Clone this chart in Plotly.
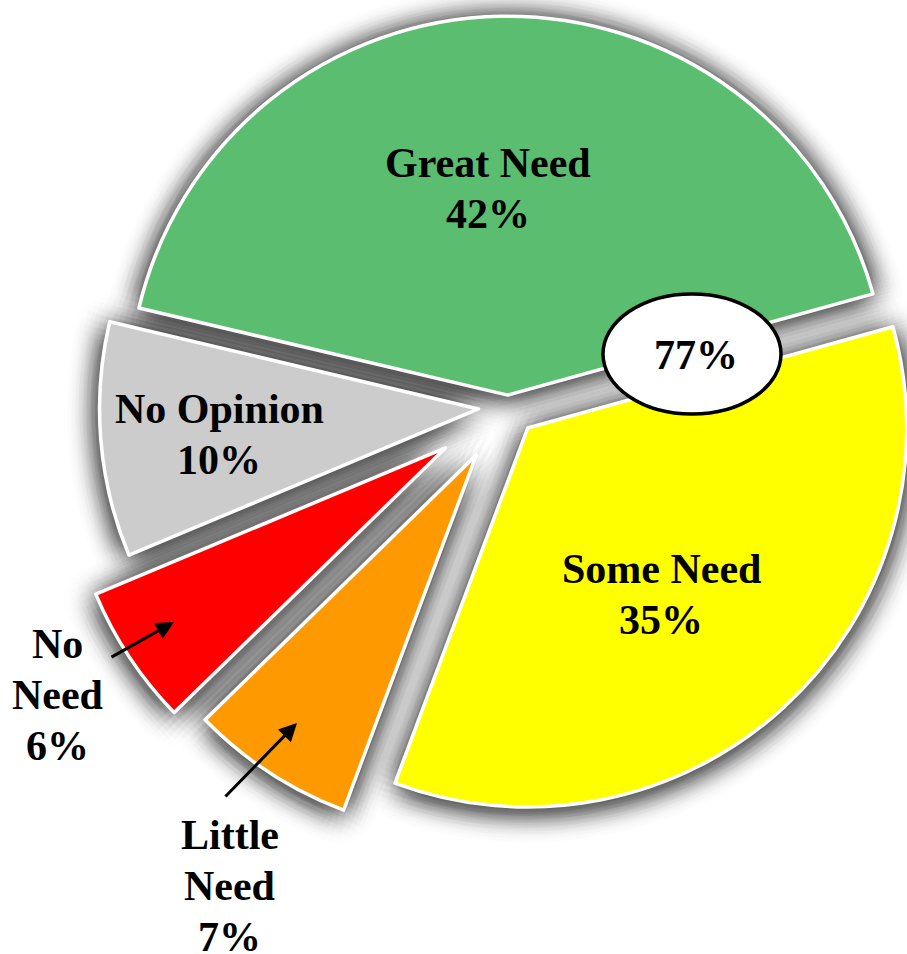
import math
import plotly.graph_objects as go

# ---- data ----
categories = ["Great Need", "Some Need", "Little Need", "No Need", "No Opinion"]
values = [42, 35, 7, 6, 10]
combined_value = 77  # Great Need + Some Need

# ---- style ----
colors = ["#5BBD6F", "#FFFF00", "#FF9900", "#FF0000", "#CCCCCC"]
pulls = [0.03, 0.077, 0.153, 0.198, 0.078]
W, H = 907, 954
CX, CY = 508, 406.5
R = 379
ROT = -76.7
FONT = "Liberation Serif"
FS = 42
LINE = 51
SIGMA = 16.0
SHADOW_STRENGTH = 1.35
SHADOW_OFFSET = (0, 3)

fig = go.Figure()
total = sum(values)
start_math = 90 - ROT

# geometry of each (pulled) slice, derived from the values
slices = []
cum = 0
for i, v in enumerate(values):
    a0 = start_math - cum / total * 360
    a1 = start_math - (cum + v) / total * 360
    mid = math.radians((a0 + a1) / 2)
    cum += v
    ax = CX + pulls[i] * R * math.cos(mid)
    ay = CY - pulls[i] * R * math.sin(mid)
    slices.append((ax, ay, a0, a1))


def wedge_path(ax, ay, a0, a1, rad, ox, oy):
    xs, ys = [round(ax + ox, 1)], [round(ay + oy, 1)]
    n = max(6, int(abs(a0 - a1) / 3))
    for k in range(n + 1):
        t = math.radians(a0 + (a1 - a0) * k / n)
        xs.append(round(ax + ox + rad * math.cos(t), 1))
        ys.append(round(ay + oy - rad * math.sin(t), 1))
    xs.append(round(ax + ox, 1))
    ys.append(round(ay + oy, 1))
    return xs, ys


# soft shadow: sum of shifted translucent copies (Gaussian blur approximation)
STEP = 4.0
NR = 12
for j in range(NR + 1):
    rr = j * STEP
    a = max(0.0, rr - STEP / 2)
    b = rr + STEP / 2 if j < NR else 1e9
    n = 1 if j == 0 else max(6, round(2 * math.pi * rr / 7))
    mass = math.exp(-a * a / (2 * SIGMA ** 2)) - math.exp(-b * b / (2 * SIGMA ** 2))
    alpha = 1 - math.exp(-SHADOW_STRENGTH * mass / n)
    for k in range(n):
        ang = 2 * math.pi * (k + 0.37 * j) / n
        ox = SHADOW_OFFSET[0] + rr * math.cos(ang)
        oy = SHADOW_OFFSET[1] + rr * math.sin(ang)
        X, Y = [], []
        for (ax, ay, a0, a1) in slices:
            xs, ys = wedge_path(ax, ay, a0, a1, R + 1.5, ox, oy)
            X += xs + [None]
            Y += ys + [None]
        fig.add_trace(go.Scatter(
            x=X, y=Y, mode="lines", fill="toself", line=dict(width=0),
            fillcolor=f"rgba(0,0,0,{alpha:.5f})", hoverinfo="skip", showlegend=False,
        ))

# pie slices (one trace per slice so each can sit at its own pulled position)
for i, (ax, ay, a0, a1) in enumerate(slices):
    dx = [max(0, (ax - R) / W), min(1, (ax + R) / W)]
    dy = [max(0, 1 - (ay + R) / H), min(1, 1 - (ay - R) / H)]
    fig.add_trace(go.Pie(
        values=values, labels=categories, sort=False, direction="clockwise",
        rotation=ROT, textinfo="none", hoverinfo="skip", showlegend=False,
        marker=dict(
            colors=[colors[j] if j == i else "rgba(0,0,0,0)" for j in range(len(values))],
            line=dict(color=["white" if j == i else "rgba(0,0,0,0)" for j in range(len(values))],
                      width=[3.5 if j == i else 0 for j in range(len(values))]),
        ),
        domain=dict(x=dx, y=dy),
    ))

# label positions: (x centre, y of first line centre, split words onto lines)
label_pos = {
    "Great Need": (488, 163, False),
    "Some Need": (661, 569, False),
    "No Opinion": (219, 409, False),
    "No Need": (57, 644, True),
    "Little Need": (230, 835, True),
}
annotations = []
for name, v in zip(categories, values):
    x, y, split = label_pos[name]
    lines = (name.split() if split else [name]) + [f"{v}%"]
    for k, ln in enumerate(lines):
        annotations.append(dict(
            x=x / W, y=1 - (y + k * LINE) / H, xref="paper", yref="paper",
            text=f"<b>{ln}</b>", showarrow=False,
            xanchor="center", yanchor="middle",
            font=dict(family=FONT, size=FS, color="black"),
        ))

# arrows (head, tail) in pixels
arrows = [((174, 622), (110, 658)), ((297, 723), (224, 798))]
for (hx, hy), (tx, ty) in arrows:
    annotations.append(dict(
        x=hx / W, y=1 - hy / H, xref="paper", yref="paper", text="",
        showarrow=True, ax=tx - hx, ay=ty - hy, axref="pixel", ayref="pixel",
        arrowhead=2, arrowsize=1.2, arrowwidth=3, arrowcolor="black", standoff=0,
    ))

annotations.append(dict(
    x=696 / W, y=1 - 355 / H, xref="paper", yref="paper",
    text=f"<b>{combined_value}%</b>", showarrow=False,
    xanchor="center", yanchor="middle",
    font=dict(family=FONT, size=FS, color="black"),
))

fig.update_layout(
    width=W, height=H, margin=dict(l=0, r=0, t=0, b=0),
    paper_bgcolor="white", plot_bgcolor="white",
    xaxis=dict(range=[0, W], visible=False, fixedrange=True),
    yaxis=dict(range=[H, 0], visible=False, fixedrange=True),
    annotations=annotations,
    shapes=[dict(type="circle", xref="paper", yref="paper",
                 x0=603 / W, x1=781 / W, y0=1 - 414 / H, y1=1 - 294 / H,
                 fillcolor="white", line=dict(color="black", width=3.5), layer="above")],
)

fig.write_html("out.html", config={"displayModeBar": False},
               post_script="document.body.style.margin='0';")
